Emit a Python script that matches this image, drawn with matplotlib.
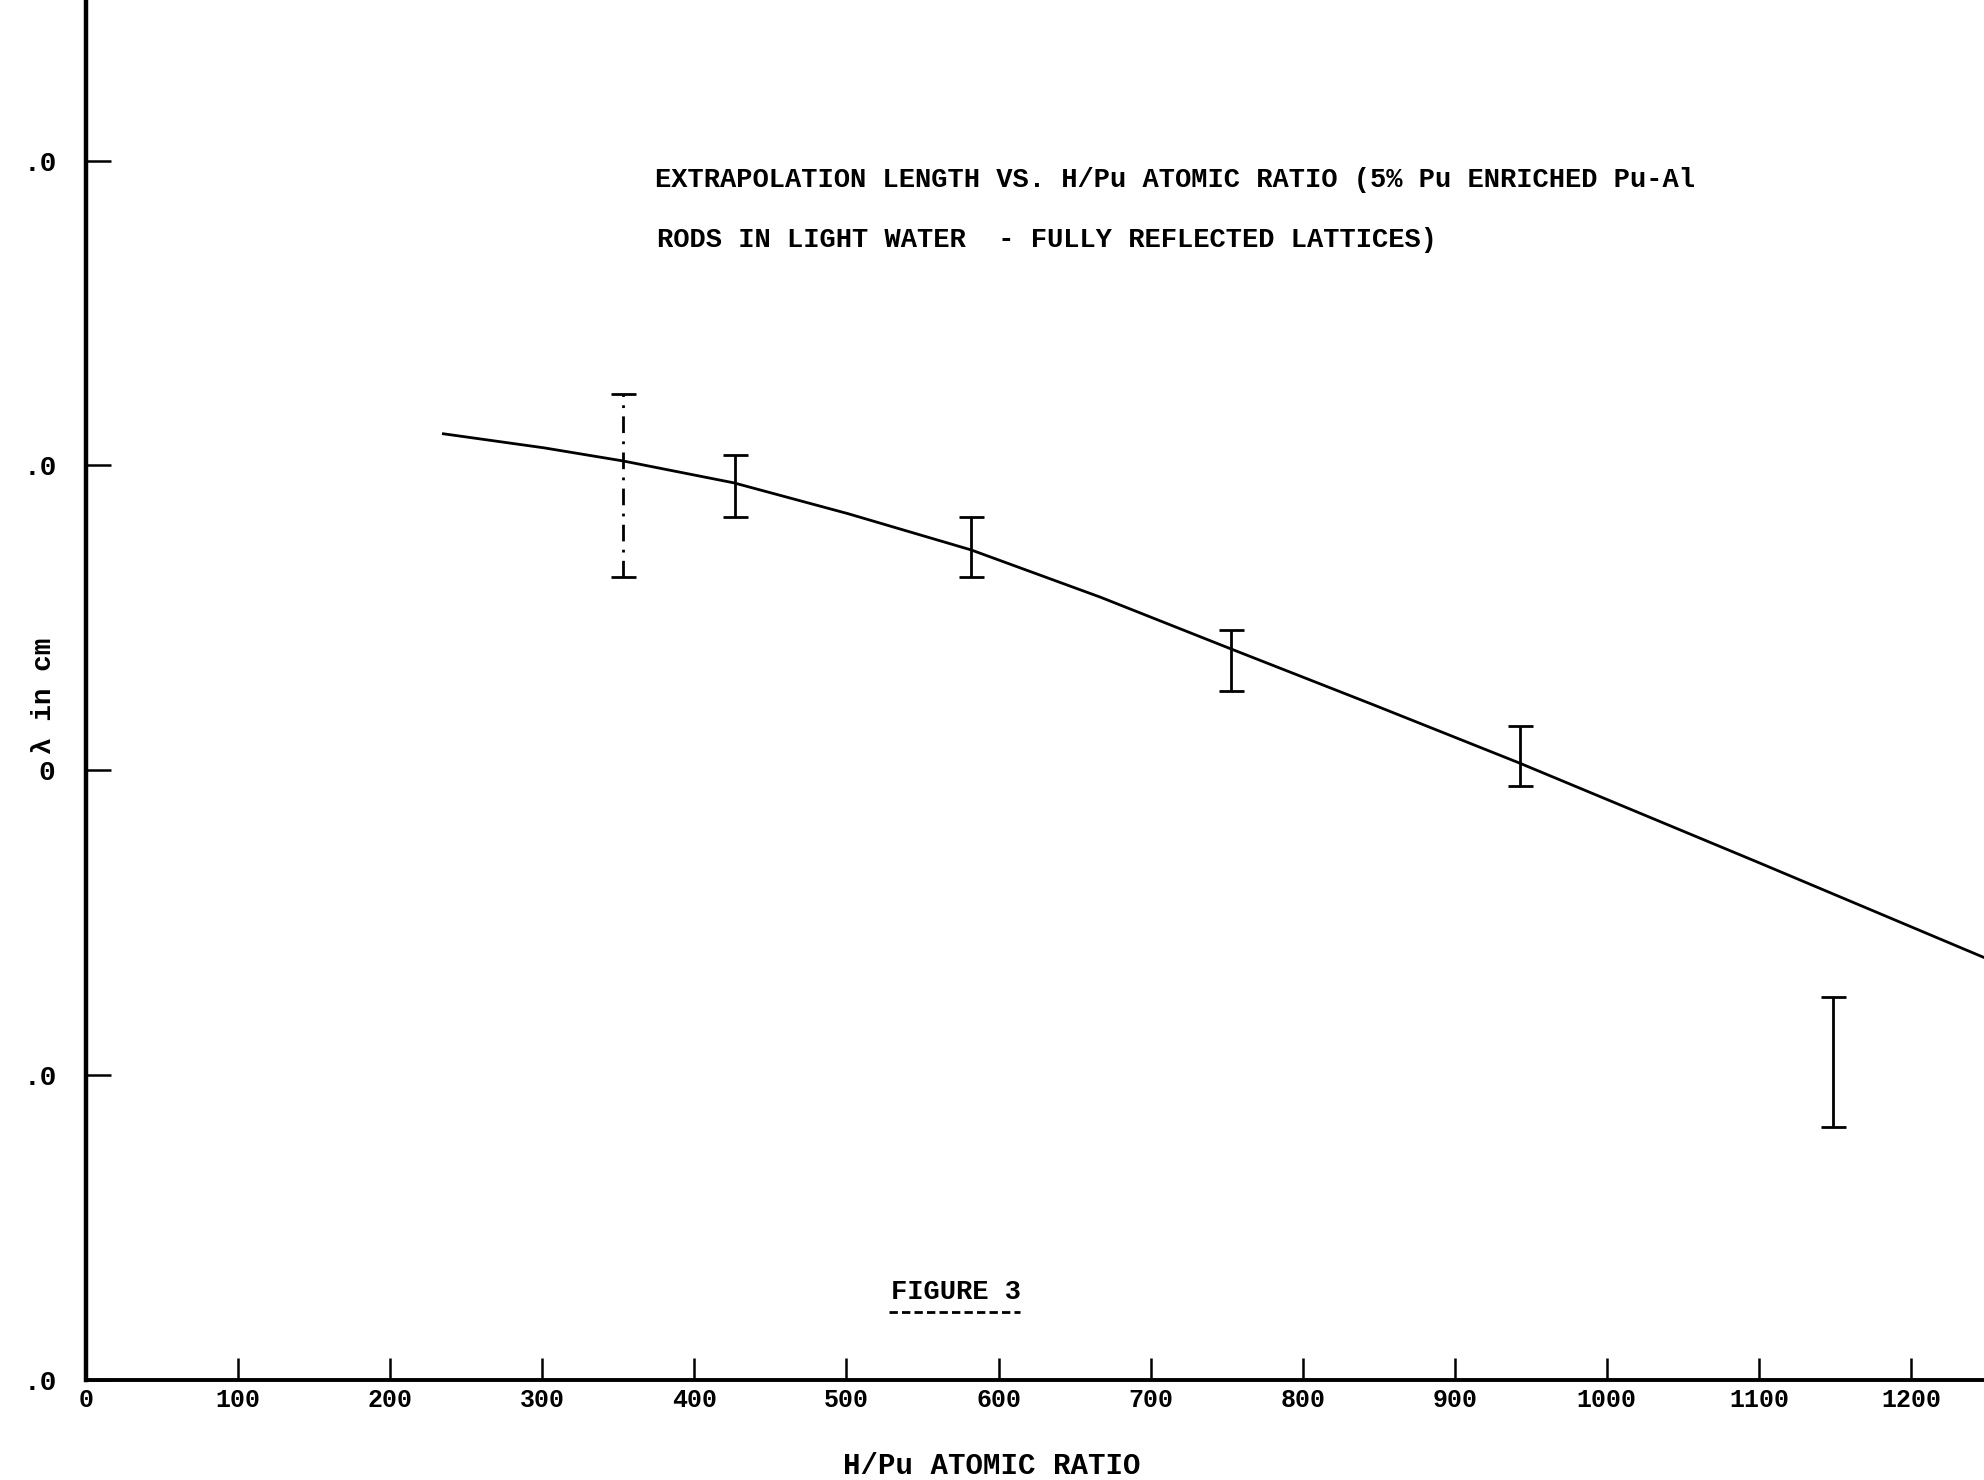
import matplotlib
matplotlib.use("Agg")
import matplotlib.pyplot as plt
from matplotlib.lines import Line2D
import numpy as np

# ---- data ----
curve_x = [235, 301, 353, 426, 501, 582, 667, 753, 846, 942, 1100, 1248]
curve_y = [3.104, 3.058, 3.015, 2.943, 2.842, 2.723, 2.568, 2.398, 2.216, 2.025, 1.697, 1.386]

err_x = [353, 427, 582, 753, 943, 1149]
err_center = [2.92, 2.934, 2.76, 2.361, 2.048, 1.051]
err_top = [3.236, 3.036, 2.832, 2.461, 2.146, 1.257]
err_bottom = [2.635, 2.832, 2.635, 2.261, 1.950, 0.831]

x_ticks = [0, 100, 200, 300, 400, 500, 600, 700, 800, 900, 1000, 1100, 1200]
x_tick_labels = ["0", "100", "200", "300", "400", "500", "600", "700", "800", "900", "1000", "1100", "1200"]
y_ticks = [0, 1, 2, 3, 4]
y_tick_labels = [".0", ".0", "0", ".0", ".0"]

title_line1 = "EXTRAPOLATION LENGTH VS. H/Pu ATOMIC RATIO (5% Pu ENRICHED Pu-Al"
title_line2 = "RODS IN LIGHT WATER  - FULLY REFLECTED LATTICES)"
figure_label = "FIGURE 3"
x_label = "H/Pu ATOMIC RATIO"
y_label = "\u03bb in cm"

FONT = "Liberation Mono"

W, H = 1984, 1480
fig = plt.figure(figsize=(W / 100, H / 100), dpi=100)
fig.patch.set_facecolor("white")

ax_left = 86 / W
ax_bottom = (H - 1380) / H
ax = fig.add_axes([ax_left, ax_bottom, 1 - ax_left, 1380 / H])
ax.set_xlim(0, 1248)
ax.set_ylim(0, 4.527)

for s in ["top", "right"]:
    ax.spines[s].set_visible(False)
ax.spines["left"].set_linewidth(3.2)
ax.spines["bottom"].set_linewidth(2.8)

ax.set_xticks(x_ticks)
ax.set_xticklabels(x_tick_labels, fontfamily=FONT, fontweight="bold", fontsize=18)
ax.set_yticks(y_ticks)
ax.set_yticklabels(y_tick_labels, fontfamily=FONT, fontweight="bold", fontsize=20,
                   va="center_baseline")
for lbl in ax.get_yticklabels():
    if lbl.get_text() == "0":
        lbl.set_ha("center")
ax.tick_params(axis="x", direction="in", length=16, width=1.8, pad=6)
ax.tick_params(axis="y", direction="in", length=18, width=1.8, pad=21)
# centre the lone "0" label under the other labels
for lbl in ax.get_yticklabels():
    if lbl.get_text() == "0":
        lbl.set_ha("right")
        lbl.set_x(-0.001)

# curve
ax.plot(curve_x, curve_y, color="black", lw=2.0)

# error bars
c = np.array(err_center)
yerr = [c - np.array(err_bottom), np.array(err_top) - c]
for i in range(len(err_x)):
    cont = ax.errorbar([err_x[i]], [c[i]], yerr=[[yerr[0][i]], [yerr[1][i]]],
                       fmt="none", ecolor="black", elinewidth=2.0, capsize=9, capthick=2.0)
    if i == 0:
        cont[2][0].set_linestyle((0, (6, 3, 1, 3)))

# texts
fig.text(655 / W, 1 - 180 / H, title_line1, fontfamily=FONT, fontweight="bold",
         fontsize=19.5, va="center", ha="left")
fig.text(657 / W, 1 - 240 / H, title_line2, fontfamily=FONT, fontweight="bold",
         fontsize=19.5, va="center", ha="left")
fig.text(891 / W, 1 - 1292 / H, figure_label, fontfamily=FONT, fontweight="bold",
         fontsize=19.5, va="center", ha="left")
fig.add_artist(Line2D([889 / W, 1020 / W], [1 - 1312 / H, 1 - 1312 / H],
                      transform=fig.transFigure, color="black", lw=2, ls=(0, (3, 1.5))))
fig.text(992 / W, 1 - 1466 / H, x_label, fontfamily=FONT, fontweight="bold",
         fontsize=21, va="center", ha="center")
fig.text(44 / W, 1 - 696 / H, y_label, fontfamily=FONT, fontweight="bold",
         fontsize=20, va="center", ha="center", rotation=90)

fig.savefig("out.png", dpi=100, facecolor="white")
